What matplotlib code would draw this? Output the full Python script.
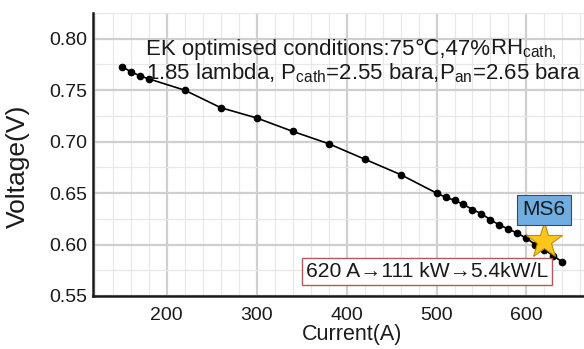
import matplotlib
matplotlib.use("Agg")
import matplotlib.pyplot as plt
from matplotlib.ticker import MultipleLocator

plt.rcParams['font.family'] = ['Liberation Sans', 'DejaVu Sans']
plt.rcParams['mathtext.fontset'] = 'custom'
plt.rcParams['mathtext.rm'] = 'Liberation Sans'
plt.rcParams['mathtext.it'] = 'Liberation Sans'
plt.rcParams['mathtext.default'] = 'regular'

current = [150, 160, 170, 180, 220, 260, 300, 340, 380, 420, 460, 500, 510, 520,
           530, 540, 550, 560, 570, 580, 590, 600, 610, 620, 630, 640]
voltage = [0.773, 0.768, 0.764, 0.761, 0.750, 0.733, 0.723, 0.710, 0.698, 0.683,
           0.668, 0.650, 0.646, 0.643, 0.639, 0.634, 0.630, 0.624, 0.619, 0.615,
           0.611, 0.606, 0.600, 0.595, 0.589, 0.583]
star_point = (620, 0.603)
xticks = [200, 300, 400, 500, 600]
yticks = [0.55, 0.60, 0.65, 0.70, 0.75, 0.80]
ytick_labels = ["0.55", "0.60", "0.65", "0.70", "0.75", "0.80"]

fig = plt.figure(figsize=(5.84, 3.49), dpi=100)
ax = fig.add_axes([93/584, 53/349, 1 - 93/584, (296-13)/349])

ax.set_xlim(118, 664)
ax.set_ylim(0.55, 0.825)

ax.xaxis.set_minor_locator(MultipleLocator(20))
ax.yaxis.set_minor_locator(MultipleLocator(0.025))
ax.set_xticks(xticks)
ax.set_yticks(yticks)
ax.set_yticklabels(ytick_labels)
ax.grid(which='major', color='#cfcfcf', linewidth=1.6, zorder=0)
ax.grid(which='minor', color='#e8e8e8', linewidth=0.9, zorder=0)
ax.set_axisbelow(True)
ax.tick_params(which='both', length=0, labelsize=14, colors='#1a1a1a')
ax.tick_params(axis='y', pad=4)
ax.tick_params(axis='x', pad=8)

for s in ['top', 'right']:
    ax.spines[s].set_visible(False)
for s in ['left', 'bottom']:
    ax.spines[s].set_color('#1a1a1a')
    ax.spines[s].set_linewidth(1.8)

ax.plot(current, voltage, color='black', linewidth=1.2, marker='o', markersize=4.5, zorder=3)
ax.plot([star_point[0]], [star_point[1]], marker='*', markersize=27,
        markerfacecolor='#FFC61A', markeredgecolor='#C08A10', markeredgewidth=0.8,
        linestyle='none', zorder=5)

ax.set_xlabel("Current(A)", fontsize=15.5, color='#1a1a1a')
ax.xaxis.set_label_coords(0.527, -0.100)
ax.set_ylabel("Voltage(V)", fontsize=19, color='#1a1a1a')
ax.yaxis.set_label_coords(-0.128, 0.459)

t1 = ax.text(176.5, 0.7845, "EK optimised conditions:75℃,47%",
             fontsize=16, ha='left', va='baseline', color='#1a1a1a', zorder=4)
ax.annotate("RH$_{cath,}$", xy=(1.0, 0.7845), xycoords=(t1, 'data'),
            fontsize=16, ha='left', va='baseline', color='#1a1a1a', zorder=4)
ax.text(176.5, 0.7605, "1.85 lambda, P$_{cath}$=2.55 bara,P$_{an}$=2.65 bara",
        fontsize=16, ha='left', va='baseline', color='#1a1a1a', zorder=4)

ax.text(619.5, 0.6337, "MS6", fontsize=15, ha='center', va='center', color='#1a1a1a',
        bbox=dict(boxstyle='square,pad=0.25', facecolor='#6FAEE3', edgecolor='#3a4a5a',
                  linewidth=0.8), zorder=6)

ax.text(489.5, 0.5736, "620 A→111 kW→5.4kW/L", fontsize=15.2, ha='center', va='center',
        color='#1a1a1a',
        bbox=dict(boxstyle='square,pad=0.2', facecolor='white', edgecolor='#B05a5a',
                  linewidth=1.0), zorder=6)

fig.savefig("out.png", dpi=100)
